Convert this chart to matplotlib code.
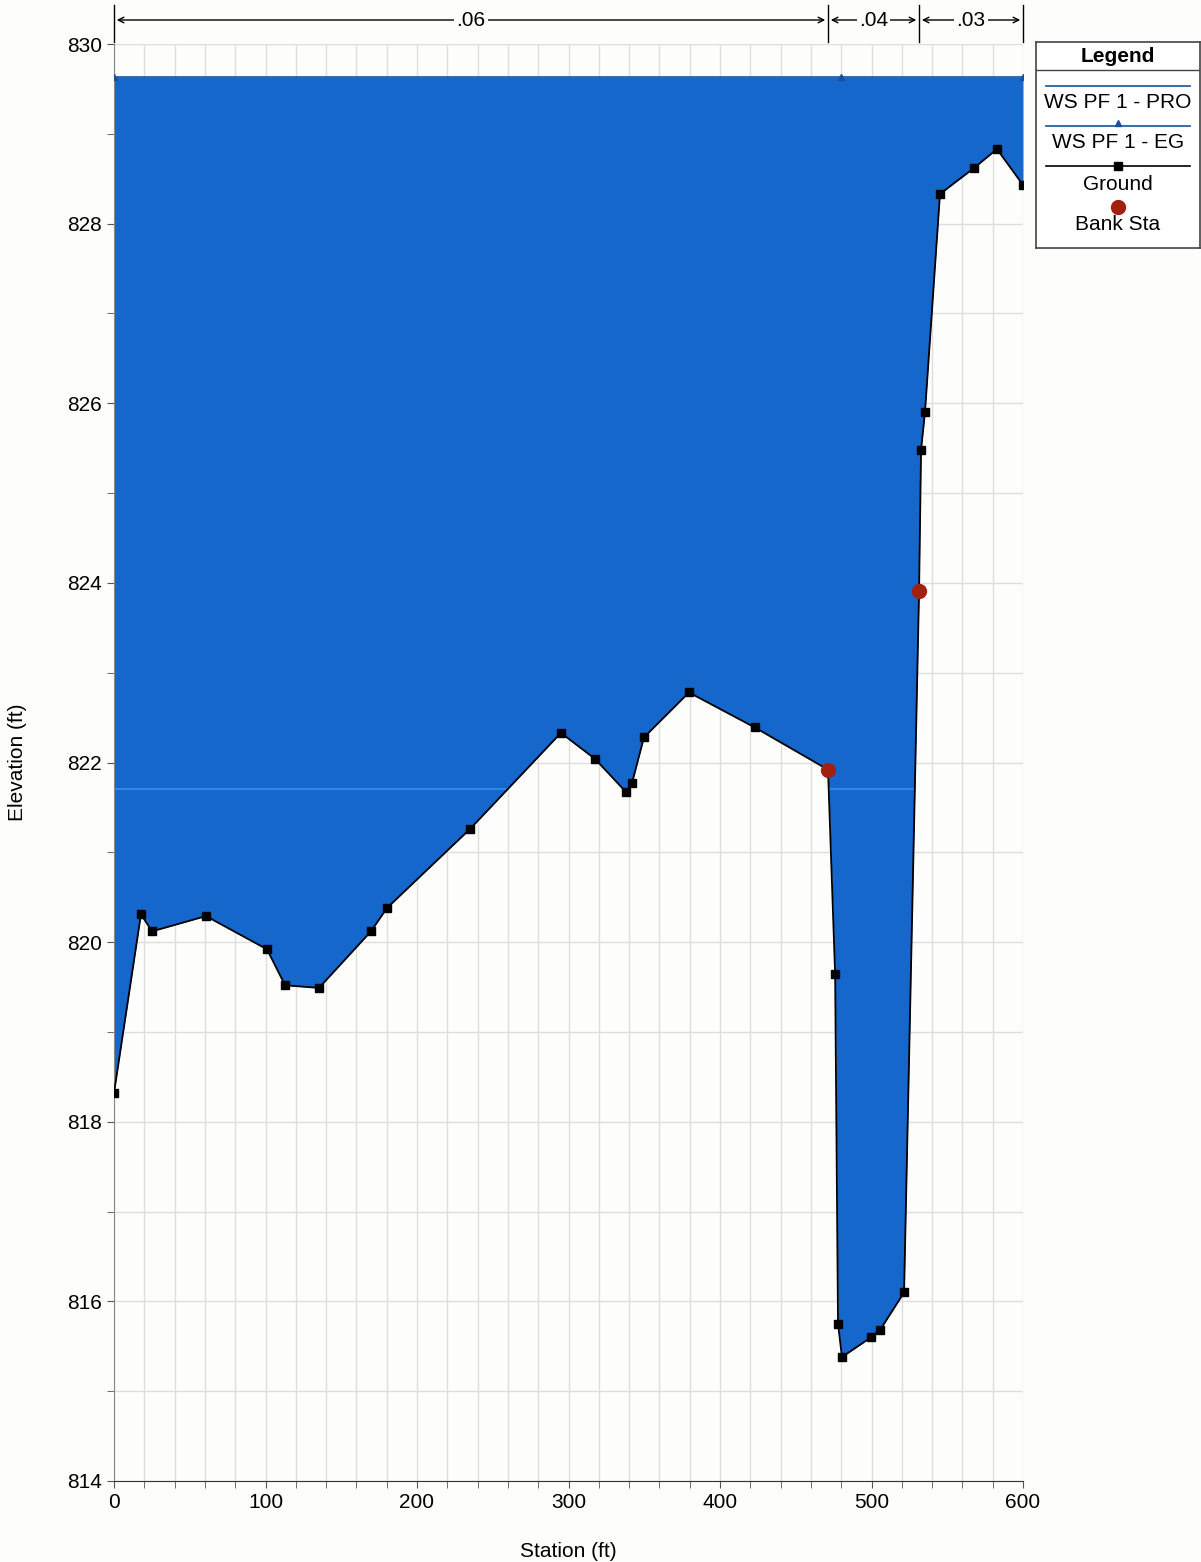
import numpy as np
import matplotlib.pyplot as plt
from matplotlib.ticker import MultipleLocator
import matplotlib.transforms as mtransforms

plt.rcParams['font.family'] = ['Liberation Sans', 'DejaVu Sans']

# ground profile (station ft, elevation ft)
station = [0, 17.8, 25.1, 60.7, 101, 112.9, 135.3, 169.6, 180.2, 235, 295, 317.5,
           338, 341.9, 349.8, 379.5, 423, 471.3, 476, 477.9, 480.5, 499.7, 505.6,
           521.5, 531.4, 532.7, 535.3, 545.2, 567.7, 582.8, 600]
elev = [818.32, 820.31, 820.12, 820.29, 819.92, 819.52, 819.49, 820.12, 820.38,
        821.26, 822.33, 822.04, 821.67, 821.77, 822.28, 822.78, 822.39, 821.92,
        819.64, 815.75, 815.38, 815.60, 815.68, 816.10, 823.91, 825.48, 825.90,
        828.33, 828.62, 828.83, 828.43]
bank_sta = [471.3, 531.4]
bank_elev = [821.92, 823.91]

ws_elev = 829.63
eg_sta = [0, 480, 600]
inner_line_elev = 821.7

n_breaks = [0, 471.3, 531.4, 600]
n_values = ['.06', '.04', '.03']

fill_c = '#1567cb'

fig = plt.figure(figsize=(12.01, 15.62), dpi=100)
fig.patch.set_facecolor('#fdfdfb')
ax = fig.add_axes([114 / 1201, 1 - 1481 / 1562, 909 / 1201, 1437 / 1562])
ax.set_facecolor('#fdfdfb')

poly = ax.fill_between(station, elev, ws_elev, color=fill_c, zorder=2, lw=0)
inner = ax.hlines(inner_line_elev, 0, 600, color='#2f86ee', lw=1.5, zorder=2.5)
inner.set_clip_path(poly.get_paths()[0], transform=ax.transData)
ax.plot([0, 600], [ws_elev, ws_elev], color='#1a4f9a', lw=1.2, zorder=3)
ax.plot(eg_sta, [ws_elev] * 3, ls='none', marker='^', ms=5, color='#1a4f9a', zorder=3)
ax.plot(station, elev, color='black', lw=1.3, marker='s', ms=6, zorder=4)
ax.plot(bank_sta, bank_elev, ls='none', marker='o', ms=10, color='#a3200f', zorder=5)

ax.set_xlim(0, 600)
ax.set_ylim(814, 830)
ax.xaxis.set_major_locator(MultipleLocator(100))
ax.xaxis.set_minor_locator(MultipleLocator(20))
ax.yaxis.set_major_locator(MultipleLocator(2))
ax.yaxis.set_minor_locator(MultipleLocator(1))
ax.grid(True, which='both', color='#dedede', lw=1, zorder=0)
ax.set_axisbelow(True)
ax.tick_params(which='both', direction='out', length=5, labelsize=15, color='#555555')
for side in ['top', 'right']:
    ax.spines[side].set_visible(False)
ax.spines['left'].set_color('#888888')
ax.spines['bottom'].set_color('#333333')
ax.set_xlabel('Station (ft)', fontsize=15, labelpad=22)
ax.set_ylabel('Elevation (ft)', fontsize=15, labelpad=42)
ax.yaxis.set_label_coords(-87 / 909, 0.5)

# manning n annotations above plot
trans = mtransforms.blended_transform_factory(ax.transData, fig.transFigure)
y_arrow = 1 - 20 / 1562
for xb in n_breaks:
    ax.plot([xb, xb], [1 - 5 / 1562, 1 - 42 / 1562], color='black', lw=1,
            transform=trans, clip_on=False)
for i, lab in enumerate(n_values):
    x0, x1 = n_breaks[i], n_breaks[i + 1]
    xm = (x0 + x1) / 2
    ax.annotate('', xy=(x0, y_arrow), xytext=(xm, y_arrow), xycoords=trans,
                textcoords=trans, arrowprops=dict(arrowstyle='->', lw=1, color='black'))
    ax.annotate('', xy=(x1, y_arrow), xytext=(xm, y_arrow), xycoords=trans,
                textcoords=trans, arrowprops=dict(arrowstyle='->', lw=1, color='black'))
    ax.text(xm, y_arrow, lab, transform=trans, ha='center', va='center', fontsize=15,
            bbox=dict(facecolor='#fdfdfb', edgecolor='none', pad=1.5))

# legend box
lg = fig.add_axes([1036 / 1201, 1 - 248 / 1562, 164 / 1201, 206 / 1562])
lg.set_xlim(1036, 1200)
lg.set_ylim(248, 42)
lg.set_xticks([])
lg.set_yticks([])
lg.set_facecolor('white')
for s in lg.spines.values():
    s.set_color('#444444')
    s.set_linewidth(1.2)
lg.text(1118, 56, 'Legend', ha='center', va='center', fontsize=15, fontweight='bold')
lg.plot([1036, 1200], [70, 70], color='#444444', lw=1)
lg.plot([1046, 1190], [86, 86], color='#1a4f9a', lw=1.2)
lg.text(1118, 102, 'WS PF 1 - PRO', ha='center', va='center', fontsize=15)
lg.plot([1046, 1190], [126, 126], color='#1a4f9a', lw=1.2)
lg.plot([1118], [123], marker='^', ms=5, color='#1a4f9a')
lg.text(1118, 143, 'WS PF 1 - EG', ha='center', va='center', fontsize=15)
lg.plot([1046, 1190], [166, 166], color='black', lw=1.2)
lg.plot([1118], [166], marker='s', ms=6, color='black')
lg.text(1118, 184, 'Ground', ha='center', va='center', fontsize=15)
lg.plot([1118], [207], marker='o', ms=10, color='#a3200f')
lg.text(1118, 225, 'Bank Sta', ha='center', va='center', fontsize=15)

fig.savefig('out.png', dpi=100, facecolor=fig.get_facecolor())
